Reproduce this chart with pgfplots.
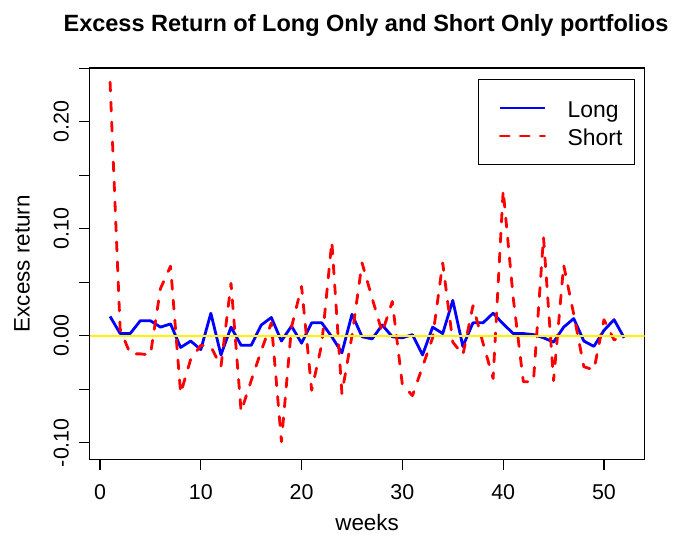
\documentclass[border=0pt]{standalone}
\usepackage{fontspec}
\setmainfont{Liberation Sans}
\usepackage{pgfplots}
\pgfplotsset{compat=1.18}
\begin{document}
\begin{tikzpicture}[x=1bp,y=1bp]
\path[use as bounding box] (0,0) rectangle (673,536);
\begin{axis}[
  at={(89.5bp,76.3bp)}, anchor=south west,
  width=555.2bp, height=391.7bp, scale only axis,
  xmin=-1.04, xmax=54.04, ymin=-0.1159, ymax=0.2502,
  axis line style={line width=1.2bp},
  every tick/.style={line width=1.2bp, black},
  tick align=outside, major tick length=10bp,
  xtick pos=left, ytick pos=left,
  xtick={0,10,20,30,40,50}, xticklabels={0,10,20,30,40,50},
  ytick={-0.1,0,0.1,0.2}, yticklabels={-0.10,0.00,0.10,0.20},
  extra y ticks={-0.05,0.05,0.15,0.25}, extra y tick labels={},
  ticklabel style={font=\fontsize{21.5}{25}\selectfont},
  xticklabel style={anchor=base}, xticklabel shift=30bp,
  yticklabel style={rotate=90, anchor=base}, yticklabel shift=10.9bp,
  xlabel={weeks}, ylabel={Excess return},
  label style={font=\fontsize{22.5}{26}\selectfont},
  xlabel style={at={(axis description cs:0.5,-0.182)}, anchor=base},
  ylabel style={at={(axis description cs:-0.1216,0.5)}, anchor=center},
  legend style={
    at={(0.9825,0.9719)}, anchor=north east,
    draw=black, line width=1.2bp,
    font=\fontsize{23}{27}\selectfont,
    inner xsep=12bp, inner ysep=14bp, row sep=-1bp,
    nodes={inner sep=0pt, text height=24bp, text depth=5bp},
    /tikz/every odd column/.append style={column sep=21.6bp},
  },
  legend cell align=left,
  legend image code/.code={\path (0bp,0bp); \draw[#1] (8bp,0bp) -- (52.4bp,0bp);},
]
\addplot[blue, line width=2.8bp, line join=round] coordinates {
(1,0.018) (2,0.002) (3,0.002) (4,0.014) (5,0.014) (6,0.008) (7,0.011) (8,-0.011)
(9,-0.005) (10,-0.013) (11,0.021) (12,-0.018) (13,0.008) (14,-0.009) (15,-0.009)
(16,0.010) (17,0.017) (18,-0.005) (19,0.009) (20,-0.007) (21,0.012) (22,0.012)
(23,-0.001) (24,-0.016) (25,0.020) (26,-0.001) (27,-0.003) (28,0.010) (29,-0.001)
(30,-0.002) (31,0.001) (32,-0.018) (33,0.008) (34,0.002) (35,0.033) (36,-0.010)
(37,0.012) (38,0.012) (39,0.021) (40,0.011) (41,0.002) (42,0.002) (43,0.001)
(44,-0.002) (45,-0.006) (46,0.008) (47,0.016) (48,-0.005) (49,-0.010) (50,0.005)
(51,0.015) (52,-0.002)
};
\addlegendentry{Long}
\addplot[red, line width=2.8bp, line join=round, line cap=round, dash pattern=on 9bp off 11bp] coordinates {
(1,0.237) (2,0.006) (3,-0.017) (4,-0.017) (5,-0.018) (6,0.044) (7,0.065) (8,-0.054)
(9,-0.022) (10,-0.009) (11,-0.010) (12,-0.029) (13,0.049) (14,-0.071) (15,-0.042)
(16,-0.014) (17,0.012) (18,-0.099) (19,0.008) (20,0.046) (21,-0.051) (22,-0.008)
(23,0.088) (24,-0.054) (25,0.000) (26,0.068) (27,0.035) (28,0.003) (29,0.032)
(30,-0.046) (31,-0.056) (32,-0.029) (33,-0.002) (34,0.068) (35,-0.006) (36,-0.018)
(37,0.028) (38,-0.007) (39,-0.040) (40,0.136) (41,0.035) (42,-0.043) (43,-0.043)
(44,0.092) (45,-0.042) (46,0.066) (47,0.020) (48,-0.029) (49,-0.032) (50,0.015)
(51,-0.004) (52,0.000)
};
\addlegendentry{Short}
\addplot[yellow, line width=1.8bp, forget plot] coordinates {(-1.04,0) (54.04,0)};
\end{axis}
\node[font=\bfseries\fontsize{23.6}{28}\selectfont, anchor=base] at (366,504) {Excess Return of Long Only and Short Only portfolios};
\end{tikzpicture}
\end{document}
